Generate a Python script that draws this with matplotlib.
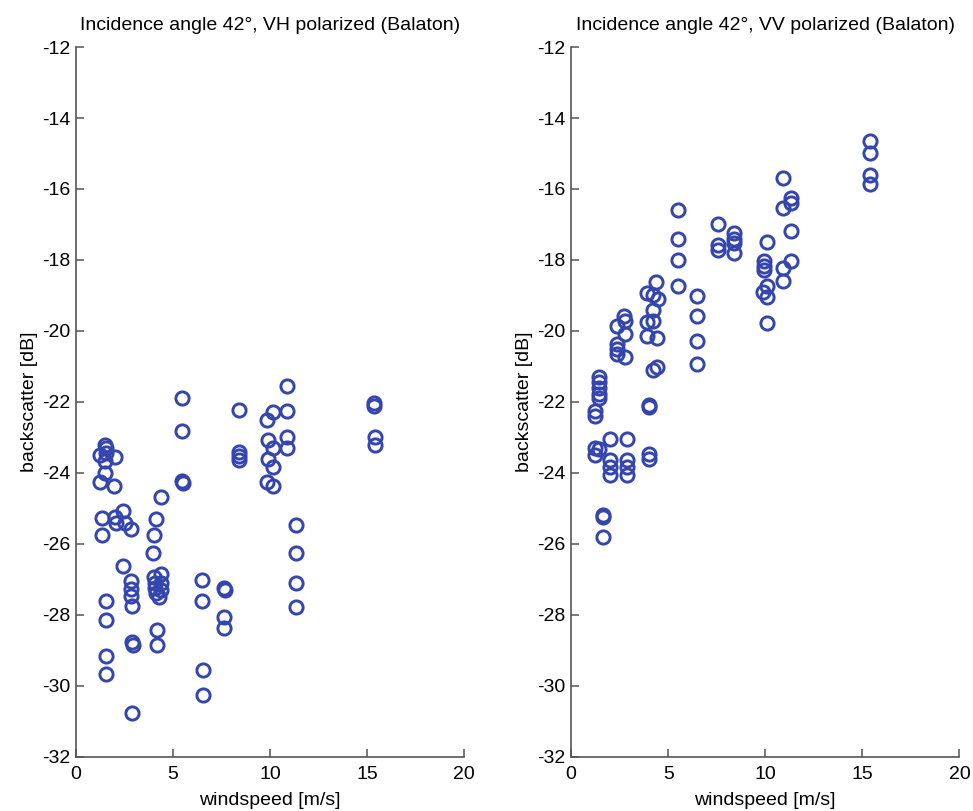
import numpy as np
import matplotlib
matplotlib.use("Agg")
import matplotlib.pyplot as plt

plt.rcParams['font.family'] = ['Liberation Sans', 'DejaVu Sans']
plt.rcParams['axes.unicode_minus'] = False

# VH polarized (left panel)
vh_wind = [1.49, 1.55, 1.23, 1.57, 1.49, 1.5, 1.23, 1.32, 1.32, 1.57, 1.57, 1.57, 1.57,
           2.0, 1.96, 2.0, 2.08,
           2.43, 2.51, 2.43,
           2.82, 2.82, 2.82, 2.82, 2.9, 2.9, 2.92, 2.9,
           4.39, 4.14, 4.0, 3.97, 4.0, 4.39, 4.05, 4.4, 4.05, 4.4, 4.15, 4.3, 4.2, 4.2,
           5.47, 5.47, 5.45, 5.5,
           6.5, 6.5, 6.53, 6.53,
           7.62, 7.66, 7.64, 7.64,
           8.41, 8.41, 8.41, 8.41,
           9.86, 10.15, 9.92, 10.15, 9.92, 10.15, 9.86, 10.15,
           10.89, 10.89, 10.89, 10.89,
           11.32, 11.32, 11.32, 11.32,
           15.38, 15.38, 15.4, 15.4]
vh_bs = [-23.21, -23.3, -23.49, -23.45, -23.68, -24.01, -24.27, -25.28, -25.75, -27.6, -28.14, -29.17, -29.66,
         -23.56, -24.37, -25.25, -25.42,
         -25.09, -25.42, -26.64,
         -25.58, -27.06, -27.28, -27.46, -27.75, -28.76, -28.84, -30.77,
         -24.69, -25.3, -25.75, -26.26, -26.95, -26.85, -27.1, -27.1, -27.25, -27.3, -27.4, -27.5, -28.42, -28.85,
         -21.9, -22.82, -24.22, -24.3,
         -27.03, -27.62, -29.57, -30.25,
         -27.25, -27.3, -28.06, -28.36,
         -22.23, -23.4, -23.54, -23.63,
         -22.51, -22.29, -23.07, -23.31, -23.62, -23.84, -24.25, -24.37,
         -21.55, -22.25, -22.98, -23.31,
         -25.46, -26.26, -27.11, -27.77,
         -22.04, -22.11, -22.98, -23.21]

# VV polarized (right panel)
vv_wind = [1.45, 1.45, 1.45, 1.45, 1.45, 1.24, 1.24, 1.24, 1.45, 1.24, 1.62, 1.66, 1.62,
           2.02, 2.0, 2.0, 2.0,
           2.36, 2.36, 2.36, 2.36,
           2.7, 2.78, 2.75, 2.78, 2.88, 2.88, 2.88, 2.88,
           3.93, 4.36, 4.2, 4.45, 4.2, 3.93, 4.2, 3.93, 4.43, 4.2, 4.43, 3.99, 3.99, 3.99, 3.99,
           5.48, 5.48, 5.48, 5.48,
           6.48, 6.48, 6.48, 6.48,
           7.59, 7.59, 7.59,
           8.4, 8.4, 8.4, 8.4,
           10.1, 9.94, 9.94, 9.94, 10.1, 9.86, 10.1, 10.1,
           10.9, 10.9, 10.9, 10.9,
           11.33, 11.33, 11.33, 11.33,
           15.4, 15.4, 15.4, 15.4]
vv_bs = [-21.3, -21.45, -21.6, -21.78, -21.88, -22.25, -22.39, -23.29, -23.32, -23.51, -25.19, -25.24, -25.8,
         -23.04, -23.65, -23.85, -24.07,
         -19.87, -20.38, -20.52, -20.66,
         -19.59, -19.71, -20.1, -20.73, -23.04, -23.65, -23.85, -24.07,
         -18.93, -18.62, -18.98, -19.1, -19.4, -19.75, -19.73, -20.15, -20.19, -21.11, -21.03, -22.1, -22.15, -23.46, -23.6,
         -16.6, -17.41, -18.01, -18.73,
         -19.03, -19.59, -20.29, -20.94,
         -16.99, -17.58, -17.72,
         -17.23, -17.41, -17.53, -17.81,
         -17.5, -18.03, -18.16, -18.28, -18.73, -18.9, -19.05, -19.79,
         -15.68, -16.53, -18.23, -18.58,
         -16.25, -16.39, -17.19, -18.03,
         -14.64, -14.99, -15.62, -15.85]

titles = ['Incidence angle 42°, VH polarized (Balaton)',
          'Incidence angle 42°, VV polarized (Balaton)']

fig = plt.figure(figsize=(9.73, 8.11), dpi=100)
ax1 = fig.add_axes([0.078, 0.067, 0.399, 0.875])
ax2 = fig.add_axes([0.587, 0.067, 0.399, 0.875])

for ax, xs, ys, title in [(ax1, vh_wind, vh_bs, titles[0]), (ax2, vv_wind, vv_bs, titles[1])]:
    ax.plot(xs, ys, 'o', markerfacecolor='none', markeredgecolor='#3446ad',
            markersize=9.5, markeredgewidth=2.1, linestyle='none')
    ax.set_xlim(0, 20)
    ax.set_ylim(-32, -12)
    ax.set_xticks(np.arange(0, 21, 5))
    ax.set_yticks(np.arange(-32, -11, 2))
    ax.spines['top'].set_visible(False)
    ax.spines['right'].set_visible(False)
    for s in ['left', 'bottom']:
        ax.spines[s].set_color('#555555')
        ax.spines[s].set_linewidth(1.2)
    ax.tick_params(direction='in', length=6, width=1.1, color='#555555', labelsize=14, pad=4)
    ax.tick_params(axis='x', pad=7)
    ax.set_xlabel('windspeed [m/s]', fontsize=14, labelpad=6)
    ax.set_ylabel('backscatter [dB]', fontsize=14, labelpad=3)
    ax.set_title(title, fontsize=14, pad=12)

fig.savefig('out.png', dpi=100)
